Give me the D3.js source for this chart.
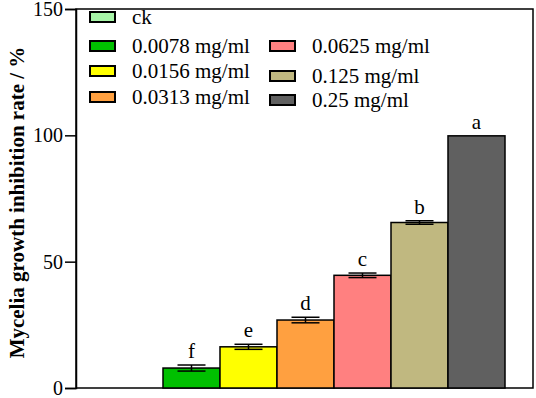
<!DOCTYPE html>
<html>
<head>
<meta charset="utf-8">
<script src="https://cdn.jsdelivr.net/npm/d3@7"></script>
<style>
  body { margin: 0; background: #fff; }
</style>
</head>
<body>
<svg id="chart" width="536" height="398"></svg>
<script>
const groups = ["ck", "0.0078 mg/ml", "0.0156 mg/ml", "0.0313 mg/ml", "0.0625 mg/ml", "0.125 mg/ml", "0.25 mg/ml"];
const values = [0, 7.9, 16.3, 26.9, 44.6, 65.5, 99.8];
const errors = [0, 1.2, 1.0, 1.1, 0.9, 0.7, 0];
const letters = ["", "f", "e", "d", "c", "b", "a"];
const colors = ["#a8f5a8", "#00c000", "#ffff00", "#ffa040", "#ff8080", "#c0b880", "#606060"];
const yTicks = [0, 50, 100, 150];

const FONT = "'Liberation Serif', 'Times New Roman', Times, serif";

const svg = d3.select("svg#chart");
const margin = { top: 9, right: 3, bottom: 10, left: 76 };
const width = +svg.attr("width");
const height = +svg.attr("height");
const chartWidth = width - margin.left - margin.right;
const chartHeight = height - margin.top - margin.bottom;

const chart = svg.append("g")
    .attr("transform", `translate(${margin.left},${margin.top})`);

const yScale = d3.scaleLinear().domain([0, 150]).range([chartHeight, 0]);
const xScale = d3.scaleBand().domain(groups).range([30, chartWidth - 28]).padding(0);

// frame
chart.append("rect")
    .attr("x", 0).attr("y", 0)
    .attr("width", chartWidth).attr("height", chartHeight)
    .attr("fill", "none")
    .attr("stroke", "#000")
    .attr("stroke-width", 1.5);

// y axis
const leftAxis = d3.axisLeft(yScale).tickValues(yTicks).tickSize(11).tickPadding(2);
const yAxisG = chart.append("g").call(leftAxis);
yAxisG.attr("font-family", null).attr("font-size", null);
yAxisG.select(".domain").attr("stroke-width", 1.5);
yAxisG.selectAll(".tick line").attr("stroke-width", 1.5);
yAxisG.selectAll(".tick text")
    .style("font-family", FONT)
    .style("font-size", "20px")
    .attr("fill", "#000");

svg.append("text")
    .attr("transform", `translate(24,${margin.top + chartHeight / 2 + 4}) rotate(-90)`)
    .attr("text-anchor", "middle")
    .style("font-family", FONT)
    .style("font-size", "21px")
    .style("font-weight", "bold")
    .text("Mycelia growth inhibition rate / %");

// bars
chart.selectAll("rect.bar")
    .data(groups)
    .join("rect")
    .attr("class", "bar")
    .attr("x", d => xScale(d))
    .attr("y", (d, i) => yScale(values[i]))
    .attr("width", xScale.bandwidth())
    .attr("height", (d, i) => chartHeight - yScale(values[i]))
    .attr("fill", (d, i) => colors[i])
    .attr("stroke", "#000")
    .attr("stroke-width", 1.5);

// error bars
const capHalf = 14;
const errG = chart.append("g");
groups.forEach((g, i) => {
    if (errors[i] <= 0) return;
    const cx = xScale(g) + xScale.bandwidth() / 2;
    const y0 = yScale(values[i] - errors[i]);
    const y1 = yScale(values[i] + errors[i]);
    errG.append("line").attr("x1", cx).attr("x2", cx).attr("y1", y0).attr("y2", y1)
        .attr("stroke", "#000").attr("stroke-width", 1.5);
    [y0, y1].forEach(y => {
        errG.append("line").attr("x1", cx - capHalf).attr("x2", cx + capHalf)
            .attr("y1", y).attr("y2", y)
            .attr("stroke", "#000").attr("stroke-width", 1.5);
    });
});

// significance letters
chart.selectAll("text.letter")
    .data(groups)
    .join("text")
    .attr("class", "letter")
    .attr("x", d => xScale(d) + xScale.bandwidth() / 2)
    .attr("y", (d, i) => yScale(values[i] + errors[i]) - 7)
    .attr("text-anchor", "middle")
    .style("font-family", FONT)
    .style("font-size", "21px")
    .text((d, i) => letters[i]);

// legend
const legendPos = [
    { x: 90, y: 17 }, { x: 90, y: 46 }, { x: 90, y: 71 }, { x: 90, y: 97 },
    { x: 270, y: 46 }, { x: 270, y: 76 }, { x: 270, y: 100 }
];
const legend = svg.append("g");
groups.forEach((g, i) => {
    const p = legendPos[i];
    legend.append("rect")
        .attr("x", p.x).attr("y", p.y - 5)
        .attr("width", 25).attr("height", 10)
        .attr("fill", colors[i])
        .attr("stroke", "#000")
        .attr("stroke-width", 2);
    legend.append("text")
        .attr("x", p.x + 42).attr("y", p.y)
        .attr("dominant-baseline", "central")
        .style("font-family", FONT)
        .style("font-size", "21px")
        .text(g);
});
</script>
</body>
</html>
